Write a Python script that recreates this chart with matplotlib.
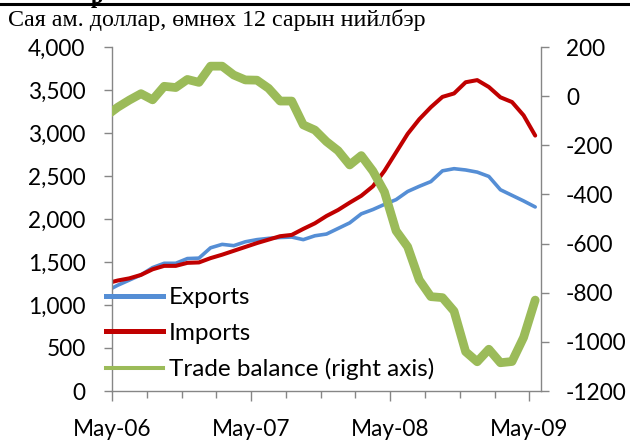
import matplotlib
matplotlib.use("Agg")
import matplotlib.pyplot as plt
from matplotlib.lines import Line2D
from matplotlib.ticker import FuncFormatter, MultipleLocator, FixedLocator

plt.rcParams['font.family'] = ['Lato', 'DejaVu Sans']
plt.rcParams['axes.unicode_minus'] = False

# months counted from May-06; monthly points sit mid-month (Apr-06 .. May-09)
months = [m + 0.5 for m in range(-1, 37)]

exports = [1160, 1230, 1290, 1350, 1435, 1485, 1485, 1540, 1545, 1665,
           1705, 1690, 1735, 1760, 1775, 1785, 1790, 1760, 1805, 1825,
           1890, 1955, 2060, 2110, 2170, 2225, 2320, 2380, 2435, 2560,
           2585, 2570, 2545, 2495, 2340, 2275, 2210, 2140]
imports = [1250, 1285, 1310, 1350, 1415, 1455, 1455, 1490, 1495, 1545,
           1585, 1630, 1675, 1720, 1760, 1800, 1815, 1885, 1950, 2035,
           2105, 2190, 2270, 2380, 2560, 2775, 2990, 3160, 3300, 3420,
           3460, 3590, 3615, 3535, 3415, 3360, 3205, 2970]
balance = [-80, -45, -16, 10, -15, 40, 35, 68, 56, 122,
           122, 86, 66, 65, 32, -20, -20, -117, -138, -185,
           -222, -280, -242, -305, -390, -548, -613, -748, -816, -820,
           -875, -1040, -1081, -1030, -1085, -1080, -982, -830]

tick_pos = [0, 12, 24, 36]
tick_labels = ['May-06', 'May-07', 'May-08', 'May-09']

title = 'Сая ам. доллар, өмнөх 12 сарын нийлбэр'

BLUE = '#558ED5'
RED = '#C00000'
GREEN = '#9BBB59'
AXIS = '#868686'
FS = 16.3

fig = plt.figure(figsize=(6.3, 4.41), dpi=100)
ax = fig.add_axes([112 / 630, 1 - 391 / 441, (541 - 112) / 630, (391 - 47) / 441])
ax2 = ax.twinx()

line_kw = dict(solid_joinstyle='round', solid_capstyle='round')
ax.plot(months, exports, color=BLUE, lw=2.6, **line_kw)
ax.plot(months, imports, color=RED, lw=2.9, **line_kw)
ax2.plot(months, balance, color=GREEN, lw=6.3, **line_kw)

ax.set_xlim(0, 37)
ax.set_ylim(0, 4000)
ax2.set_ylim(-1200, 200)

ax.yaxis.set_major_locator(MultipleLocator(500))
ax.yaxis.set_major_formatter(FuncFormatter(lambda v, p: f'{int(v):,}'))
ax2.yaxis.set_major_locator(MultipleLocator(200))
ax2.yaxis.set_major_formatter(FuncFormatter(lambda v, p: f'{int(v)}'))

ax.xaxis.set_major_locator(FixedLocator(tick_pos))
ax.set_xticklabels(tick_labels)
ax.xaxis.set_minor_locator(MultipleLocator(3))

for a in (ax, ax2):
    a.spines['top'].set_visible(False)
    for s in a.spines.values():
        s.set_color(AXIS)
        s.set_linewidth(1.0)
ax.spines['right'].set_visible(False)
ax2.spines['left'].set_visible(False)
ax2.spines['bottom'].set_visible(False)

ax.tick_params(axis='y', direction='out', length=6, width=1, color=AXIS,
               labelsize=FS, pad=13, labelcolor='black')
ax2.tick_params(axis='y', direction='out', length=6, width=1, color=AXIS,
                labelsize=FS, pad=12, labelcolor='black')
ax.tick_params(axis='x', which='major', direction='out', length=7, width=1,
               color=AXIS, labelsize=FS, pad=13, labelcolor='black')
ax.tick_params(axis='x', which='minor', direction='out', length=5, width=1,
               color=AXIS)

handles = [Line2D([], [], color=BLUE, lw=3.6),
           Line2D([], [], color=RED, lw=3.6),
           Line2D([], [], color=GREEN, lw=2.9)]
fig.legend(handles, ['Exports', 'Imports', 'Trade balance (right axis)'],
           loc='upper left', bbox_to_anchor=(106 / 630, 1 - 287 / 441),
           frameon=False, fontsize=17.5, handlelength=2.35, handletextpad=0.25,
           labelspacing=0.6, borderaxespad=0, borderpad=0)

fig.text(8 / 630, 1 - 20 / 441, title, family='Liberation Serif',
         fontsize=17.3, ha='left', va='center')
fig.add_artist(Line2D([0, 1], [1 - 4 / 441, 1 - 4 / 441], color='black',
                      lw=2.2, transform=fig.transFigure))
fig.text(91 / 630, 1 - 3 / 441, 'р', family='Liberation Serif',
         fontweight='bold', fontsize=16, ha='left', va='baseline')

fig.savefig('out.png', dpi=100)
